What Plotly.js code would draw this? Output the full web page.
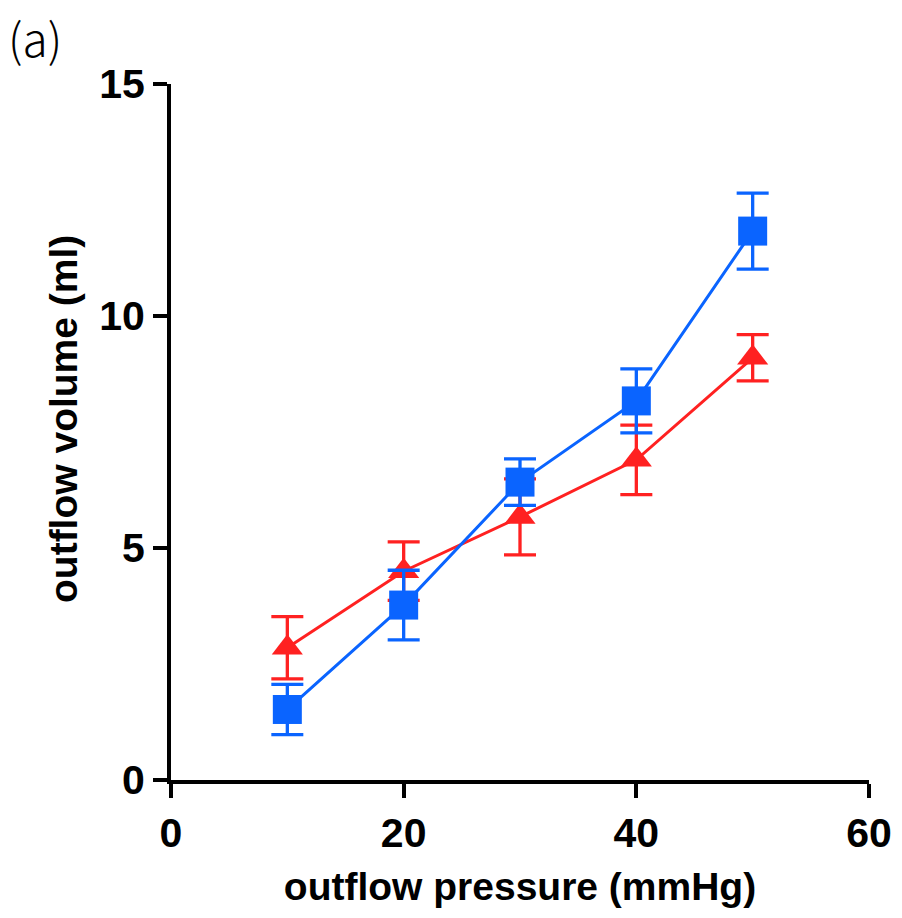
<!DOCTYPE html>
<html>
<head>
<meta charset="utf-8">
<script src="https://cdn.plot.ly/plotly-3.0.1.min.js"></script>
<style>html,body{margin:0;padding:0;background:#fff;}#chart{width:902px;height:918px;}</style>
</head>
<body>
<div id="chart"></div>
<script>
const pressure = [10, 20, 30, 40, 50];
const blueMean = [1.52, 3.77, 6.42, 8.17, 11.83];
const blueErr  = [0.54, 0.75, 0.50, 0.69, 0.82];
const redMean  = [2.85, 4.50, 5.67, 6.90, 9.10];
const redErr   = [0.67, 0.63, 0.82, 0.75, 0.50];
const xTicks = [0, 20, 40, 60];
const yTicks = [0, 5, 10, 15];

const blue = '#0a64ff';
const red = '#ff2121';

const traces = [
  {
    x: pressure, y: redMean, type: 'scatter', mode: 'lines+markers',
    line: {color: red, width: 3},
    marker: {symbol: 'triangle-up', size: 27, color: red},
    error_y: {type: 'data', array: redErr, visible: true, color: red, thickness: 3.3, width: 16},
    cliponaxis: false, showlegend: false
  },
  {
    x: pressure, y: blueMean, type: 'scatter', mode: 'lines+markers',
    line: {color: blue, width: 3},
    marker: {symbol: 'square', size: 29, color: blue},
    error_y: {type: 'data', array: blueErr, visible: true, color: blue, thickness: 3.3, width: 16},
    cliponaxis: false, showlegend: false
  }
];

const tickFont = {family: 'Liberation Sans, Arial, sans-serif', size: 41, color: '#000', weight: 'bold'};
const titleFont = {family: 'Liberation Sans, Arial, sans-serif', size: 39, color: '#000', weight: 'bold'};

const layout = {
  width: 902, height: 918,
  margin: {l: 171, r: 33, t: 84, b: 138},
  paper_bgcolor: '#fff', plot_bgcolor: '#fff',
  xaxis: {
    range: [0, 60], tickvals: xTicks, ticktext: xTicks.map(String),
    showline: true, linewidth: 4, linecolor: '#000',
    ticks: 'outside', ticklen: 14, tickwidth: 4, tickcolor: '#000',
    showgrid: false, zeroline: false, tickfont: tickFont,
    title: {text: 'outflow pressure (mmHg)', font: titleFont, standoff: 18}
  },
  yaxis: {
    range: [0, 15], tickvals: yTicks, ticktext: yTicks.map(String),
    showline: true, linewidth: 4, linecolor: '#000',
    ticks: 'outside', ticklen: 14, tickwidth: 4, tickcolor: '#000',
    showgrid: false, zeroline: false, tickfont: tickFont
  },
  annotations: [
    {
      text: 'outflow volume (ml)', xref: 'paper', yref: 'paper',
      x: 0, y: 0.5, xanchor: 'center', yanchor: 'middle', textangle: -90,
      xshift: -108, yshift: 13, showarrow: false, font: titleFont
    },
    {
      text: '(a)', xref: 'paper', yref: 'paper', x: 0, y: 1,
      xanchor: 'left', yanchor: 'top', showarrow: false,
      xshift: -165, yshift: 82,
      font: {family: 'Noto Sans CJK JP, Noto Sans, sans-serif', size: 46, color: '#000', weight: 300}
    }
  ]
};

Plotly.newPlot('chart', traces, layout, {displayModeBar: false, staticPlot: true});
</script>
</body>
</html>
